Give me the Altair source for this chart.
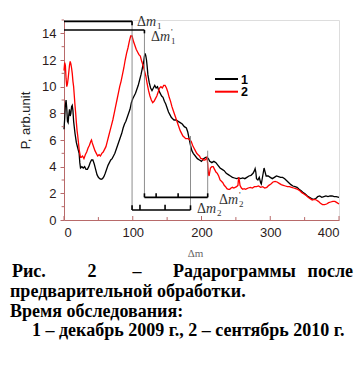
import altair as alt
import pandas as pd

# ---------------- data ----------------
x1 = [0,1,2,3,4,5,6,7,8,9,10,11,12,13,14,16,18,20,22,23,24,26,28,30,32,34,36,38,40,42,44,46,48,50,52,54,56,58,60,62,64,66,68,70,72,74,76,78,80,82,84,86,88,90,92,94,96,98,100,102,104,106,108,110,112,114,116,117,118,119,120,121,122,124,126,128,130,132,134,136,138,140,142,144,146,148,150,152,154,156,158,160,163,166,169,172,175,178,180,182,184,186,188,191,194,197,200,203,206,208,210,212,215,218,221,224,227,230,233,236,239,242,245,248,251,254,257,260,263,266,269,272,275,277,278,279,280,282,284,286,287,288,290,291,292,294,297,300,303,306,309,312,315,318,321,324,327,330,333,336,339,342,345,348,351,354,357,360,363,366,369,372,375,378,381,384,387,390,393,396,400]
y1 = [6.8,7.6,8.6,9.0,8.4,7.4,7.3,7.9,8.3,7.8,8.0,8.5,8.6,8.2,7.4,6.5,5.8,5.4,5.0,4.3,3.9,4.0,3.9,4.0,3.8,3.8,4.0,4.3,4.5,4.5,4.2,3.8,3.4,3.2,3.1,3.05,3.1,3.25,3.5,3.8,4.1,4.3,4.5,4.6,4.8,5.0,5.3,5.6,5.9,6.2,6.5,6.9,7.2,7.4,7.7,8.0,8.3,8.8,9.1,9.3,9.5,9.8,10.1,10.5,10.9,11.4,11.9,12.3,12.5,12.3,12.0,11.5,10.9,10.3,9.9,9.7,9.9,10.1,9.9,10.0,9.7,9.5,9.3,9.2,8.9,8.7,8.4,8.1,7.9,7.7,7.6,7.5,7.5,7.4,7.3,7.2,7.0,6.9,6.6,6.1,5.6,5.2,5.0,4.8,4.6,4.5,4.4,4.6,4.7,4.7,4.6,4.4,4.3,4.4,4.3,4.1,3.9,3.8,3.7,3.5,3.4,3.3,3.2,3.15,3.1,3.15,3.1,3.15,3.1,3.2,3.3,3.35,3.5,3.7,3.85,3.6,3.1,3.0,3.2,2.8,2.7,3.0,3.6,3.9,3.7,3.3,3.3,3.2,3.1,3.2,3.3,3.25,3.2,3.2,3.1,2.95,2.8,2.65,2.55,2.5,2.45,2.3,2.2,2.05,1.95,1.8,1.7,1.6,1.55,1.6,1.75,1.8,1.7,1.75,1.8,1.75,1.8,1.8,1.75,1.75,1.7]

x2 = [0,1,2,3,4,5,6,7,8,9,10,11,12,13,14,15,16,17,18,19,20,21,22,23,24,25,27,29,31,33,35,37,39,40,41,43,45,47,49,51,53,55,57,59,61,63,65,67,69,71,73,75,77,79,81,83,85,87,89,91,93,95,97,99,101,103,105,107,109,111,113,115,117,119,121,123,125,127,129,131,133,135,137,139,141,143,145,147,149,151,153,155,157,159,161,163,165,167,169,171,173,175,177,179,181,183,185,187,189,191,193,195,197,199,201,203,205,207,208,209,210,211,212,213,215,217,219,221,223,225,227,229,231,233,235,237,239,241,243,245,247,249,251,253,254,255,256,258,260,262,264,266,268,271,274,277,280,283,286,289,292,295,298,301,304,307,310,313,316,319,322,325,328,331,334,337,340,343,346,349,352,355,358,361,364,367,370,373,376,379,382,385,388,391,394,397,400]
y2 = [11.2,11.8,11.6,10.6,10.0,10.2,10.6,11.1,11.6,11.9,11.7,11.4,11.0,10.4,10.0,9.3,8.6,8.0,7.3,6.7,6.3,5.8,5.3,5.0,4.7,4.7,4.8,4.6,4.9,5.1,5.4,5.6,5.9,6.0,5.8,5.5,5.2,5.0,4.8,4.9,4.8,5.0,5.1,5.3,5.5,5.9,6.3,6.7,7.1,7.5,8.0,8.5,9.0,9.5,10.0,10.4,10.9,11.4,12.0,12.5,12.9,13.4,13.8,13.8,13.4,13.1,12.8,12.6,12.4,12.3,11.9,11.6,11.2,10.8,10.2,9.7,9.3,9.0,8.8,8.9,9.1,9.3,9.6,9.9,10.0,9.9,10.1,10.1,9.9,9.6,9.2,8.9,8.5,8.2,7.9,7.6,7.3,7.0,6.7,6.5,6.3,6.2,6.1,6.1,6.1,6.0,5.9,5.6,5.4,5.2,5.0,4.9,4.8,4.6,4.6,4.5,4.5,4.6,4.7,4.2,3.5,3.3,3.6,3.9,4.0,4.0,3.8,3.6,3.5,3.3,3.0,2.9,2.8,2.6,2.5,2.35,2.3,2.3,2.4,2.45,2.4,2.45,2.5,2.6,3.2,3.0,2.6,2.4,2.3,2.35,2.3,2.35,2.4,2.45,2.4,2.5,2.5,2.55,2.45,2.5,2.4,2.45,2.6,2.7,2.85,2.9,2.85,2.75,2.65,2.6,2.55,2.5,2.5,2.45,2.4,2.35,2.3,2.2,2.05,1.95,1.85,1.7,1.6,1.5,1.55,1.5,1.4,1.25,1.15,1.15,1.2,1.3,1.35,1.4,1.4,1.3,1.2]

series_names = ["1", "2"]
series_colors = ["#000000", "#ff0000"]

x_ticks = [0, 100, 200, 300, 400]
x_minor = [50, 150, 250, 350]
y_ticks = [0, 2, 4, 6, 8, 10, 12, 14]
y_minor = [1, 3, 5, 7, 9, 11, 13, 15]

# bracket segments (data units): x, y, x2, y2
bracket_black = [
    (0, 14.9, 99, 14.9), (99, 14.9, 99, 14.6),
    (0, 14.25, 117, 14.25), (117, 14.25, 117, 14.0),
    (99, 0.75, 184, 0.75), (99, 0.75, 99, 1.1), (184, 0.75, 184, 1.1),
    (110.5, 0.75, 110.5, 1.15), (147, 0.75, 147, 1.15),
    (117, 1.7, 209, 1.7), (117, 1.7, 117, 2.0), (209, 1.7, 209, 2.0),
    (134, 1.7, 134, 2.0), (166, 1.7, 166, 2.0),
]
bracket_gray = [
    (99, 14.9, 99, 0.75),
    (117, 14.25, 117, 1.7),
    (184, 6.3, 184, 0.75),
    (209, 5.2, 209, 1.7),
]

caption_l1 = ["Рис.", "2", "–", "Радарограммы", "после"]
caption_l2 = "предварительной обработки."
caption_l3 = "Время обследования:"
caption_l4 = "1 – декабрь 2009 г., 2 – сентябрь 2010 г."

# ---------------- build ----------------
df = pd.concat([
    pd.DataFrame({"m": x1, "P": y1, "s": "1"}),
    pd.DataFrame({"m": x2, "P": y2, "s": "2"}),
])

AX = "#b86a6a"
LAB = "#2b1b1b"
W, H = 275, 200

xscale = alt.Scale(domain=[0, 400], nice=False, zero=False)
yscale = alt.Scale(domain=[0, 15], nice=False)

XAXIS = alt.Axis(
    values=x_ticks, tickSize=0, labelPadding=6, labelFont="Liberation Sans",
    labelFontSize=13, labelColor=LAB, domainColor=AX, domainWidth=1,
    grid=False, title="Δm", titleFont="Liberation Serif", titleFontSize=11,
    titleFontWeight="normal", titleColor="#666666", titleX=131, titleY=33,
    titleBaseline="middle", titleAlign="center")
YAXIS = alt.Axis(
    values=y_ticks, tickSize=4, tickColor=AX, labelPadding=4,
    labelFont="Liberation Sans", labelFontSize=13, labelColor=LAB,
    labelOverlap=False, domainColor=AX, domainWidth=1, grid=False,
    title="P, arb.unit",
    titleFont="Liberation Sans", titleFontSize=13, titleFontWeight="normal",
    titleColor="#222222", titleX=-39, titleY=100, titleAngle=270,
    titleAlign="center", titleBaseline="middle")

def X(f):
    return alt.X(f, scale=xscale, axis=XAXIS, title="Δm")

def Y(f):
    return alt.Y(f, scale=yscale, axis=YAXIS, title="P, arb.unit")

lines = alt.Chart(df).mark_line(strokeWidth=1.3, clip=False).encode(
    x=X("m:Q"), y=Y("P:Q"),
    color=alt.Color("s:N", scale=alt.Scale(domain=series_names, range=series_colors), legend=None),
    order=alt.Order("m:Q"),
)

# inward x ticks
xt = pd.DataFrame({"m": x_ticks + x_minor, "h": [0.3] * len(x_ticks) + [0.22] * len(x_minor)})
xt["z"] = 0.0
xtick_layer = alt.Chart(xt).mark_rule(color=AX, strokeWidth=1).encode(
    x=X("m:Q"), y=Y("z:Q"), y2="h:Q")

# minor y ticks (outward)
yt = pd.DataFrame({"P": y_minor})
yt["a"] = -3.5
yt["b"] = 0.0
ytick_layer = alt.Chart(yt).mark_rule(color=AX, strokeWidth=1).encode(
    y=Y("P:Q"), x=X("a:Q"), x2="b:Q")

def seg_df(segs):
    return pd.DataFrame(segs, columns=["xa", "ya", "xb", "yb"])

gray_layer = alt.Chart(seg_df(bracket_gray)).mark_rule(color="#808080", strokeWidth=0.9).encode(
    x=X("xa:Q"), y=Y("ya:Q"), x2="xb:Q", y2="yb:Q")
black_layer = alt.Chart(seg_df(bracket_black)).mark_rule(color="#000000", strokeWidth=1.6).encode(
    x=X("xa:Q"), y=Y("ya:Q"), x2="xb:Q", y2="yb:Q")

layers = [lines, gray_layer, black_layer, xtick_layer, ytick_layer]

def txt(text, x, y, size=13, font="Liberation Serif", weight="normal", style="normal",
        align="left", baseline="middle", color="#333333"):
    return alt.Chart(pd.DataFrame({"t": [text]})).mark_text(
        font=font, fontSize=size, fontWeight=weight, fontStyle=style, align=align,
        baseline=baseline, color=color).encode(
        text="t:N", x=alt.value(x), y=alt.value(y))

def delta_label(x, y, sub, prime=False):
    out = [txt("Δ", x, y, size=14), txt("m", x + 9, y, size=14, style="italic"),
           txt(sub, x + 20, y + 4, size=9)]
    if prime:
        out.append(txt("'", x + 20, y - 5, size=9))
    return out

# page -> plot coords: (x-64, y-20)
layers += delta_label(137 - 64, 21.5 - 20, "1")
layers += delta_label(151 - 64, 37 - 20, "1", prime=True)
layers += delta_label(197 - 64, 209 - 20, "2")
layers += delta_label(219 - 64, 200 - 20, "2", prime=True)

# legend
for i, (nm, col) in enumerate(zip(series_names, series_colors)):
    yy = 59 + i * 12.7
    layers.append(alt.Chart(pd.DataFrame({"s": [nm]})).mark_rule(color=col, strokeWidth=2).encode(
        x=alt.value(151), x2=alt.value(174), y=alt.value(yy)))
    layers.append(txt(nm, 177, yy + 0.5, size=12.5, font="Liberation Sans", weight="bold", color="#000000"))

# caption
CF = "Liberation Serif"
CS = 18
b1, b2, b3, b4 = 257, 277, 297, 316
layers.append(txt(caption_l1[0], -52, b1, size=CS, font=CF, weight="bold", baseline="alphabetic", color="#000000"))
layers.append(txt(caption_l1[1], 28, b1, size=CS, font=CF, weight="bold", baseline="alphabetic", align="center", color="#000000"))
layers.append(txt(caption_l1[2], 73, b1, size=CS, font=CF, weight="bold", baseline="alphabetic", align="center", color="#000000"))
layers.append(txt(caption_l1[3], 109, b1, size=CS, font=CF, weight="bold", baseline="alphabetic", color="#000000"))
layers.append(txt(caption_l1[4], 289, b1, size=CS, font=CF, weight="bold", baseline="alphabetic", align="right", color="#000000"))
layers.append(txt(caption_l2, -54, b2, size=CS, font=CF, weight="bold", baseline="alphabetic", color="#000000"))
layers.append(txt(caption_l3, -54, b3, size=CS, font=CF, weight="bold", baseline="alphabetic", color="#000000"))
layers.append(txt(caption_l4, -32, b4, size=CS, font=CF, weight="bold", baseline="alphabetic", color="#000000"))

chart = alt.layer(*layers).properties(
    width=W, height=H,
    autosize=alt.AutoSizeParams(type="none"),
    padding={"left": 56, "top": 12, "right": 17, "bottom": 143},
).configure_view(stroke=None).configure(background="white")

chart.save("out.html", embed_options={"renderer": "svg", "actions": False})
